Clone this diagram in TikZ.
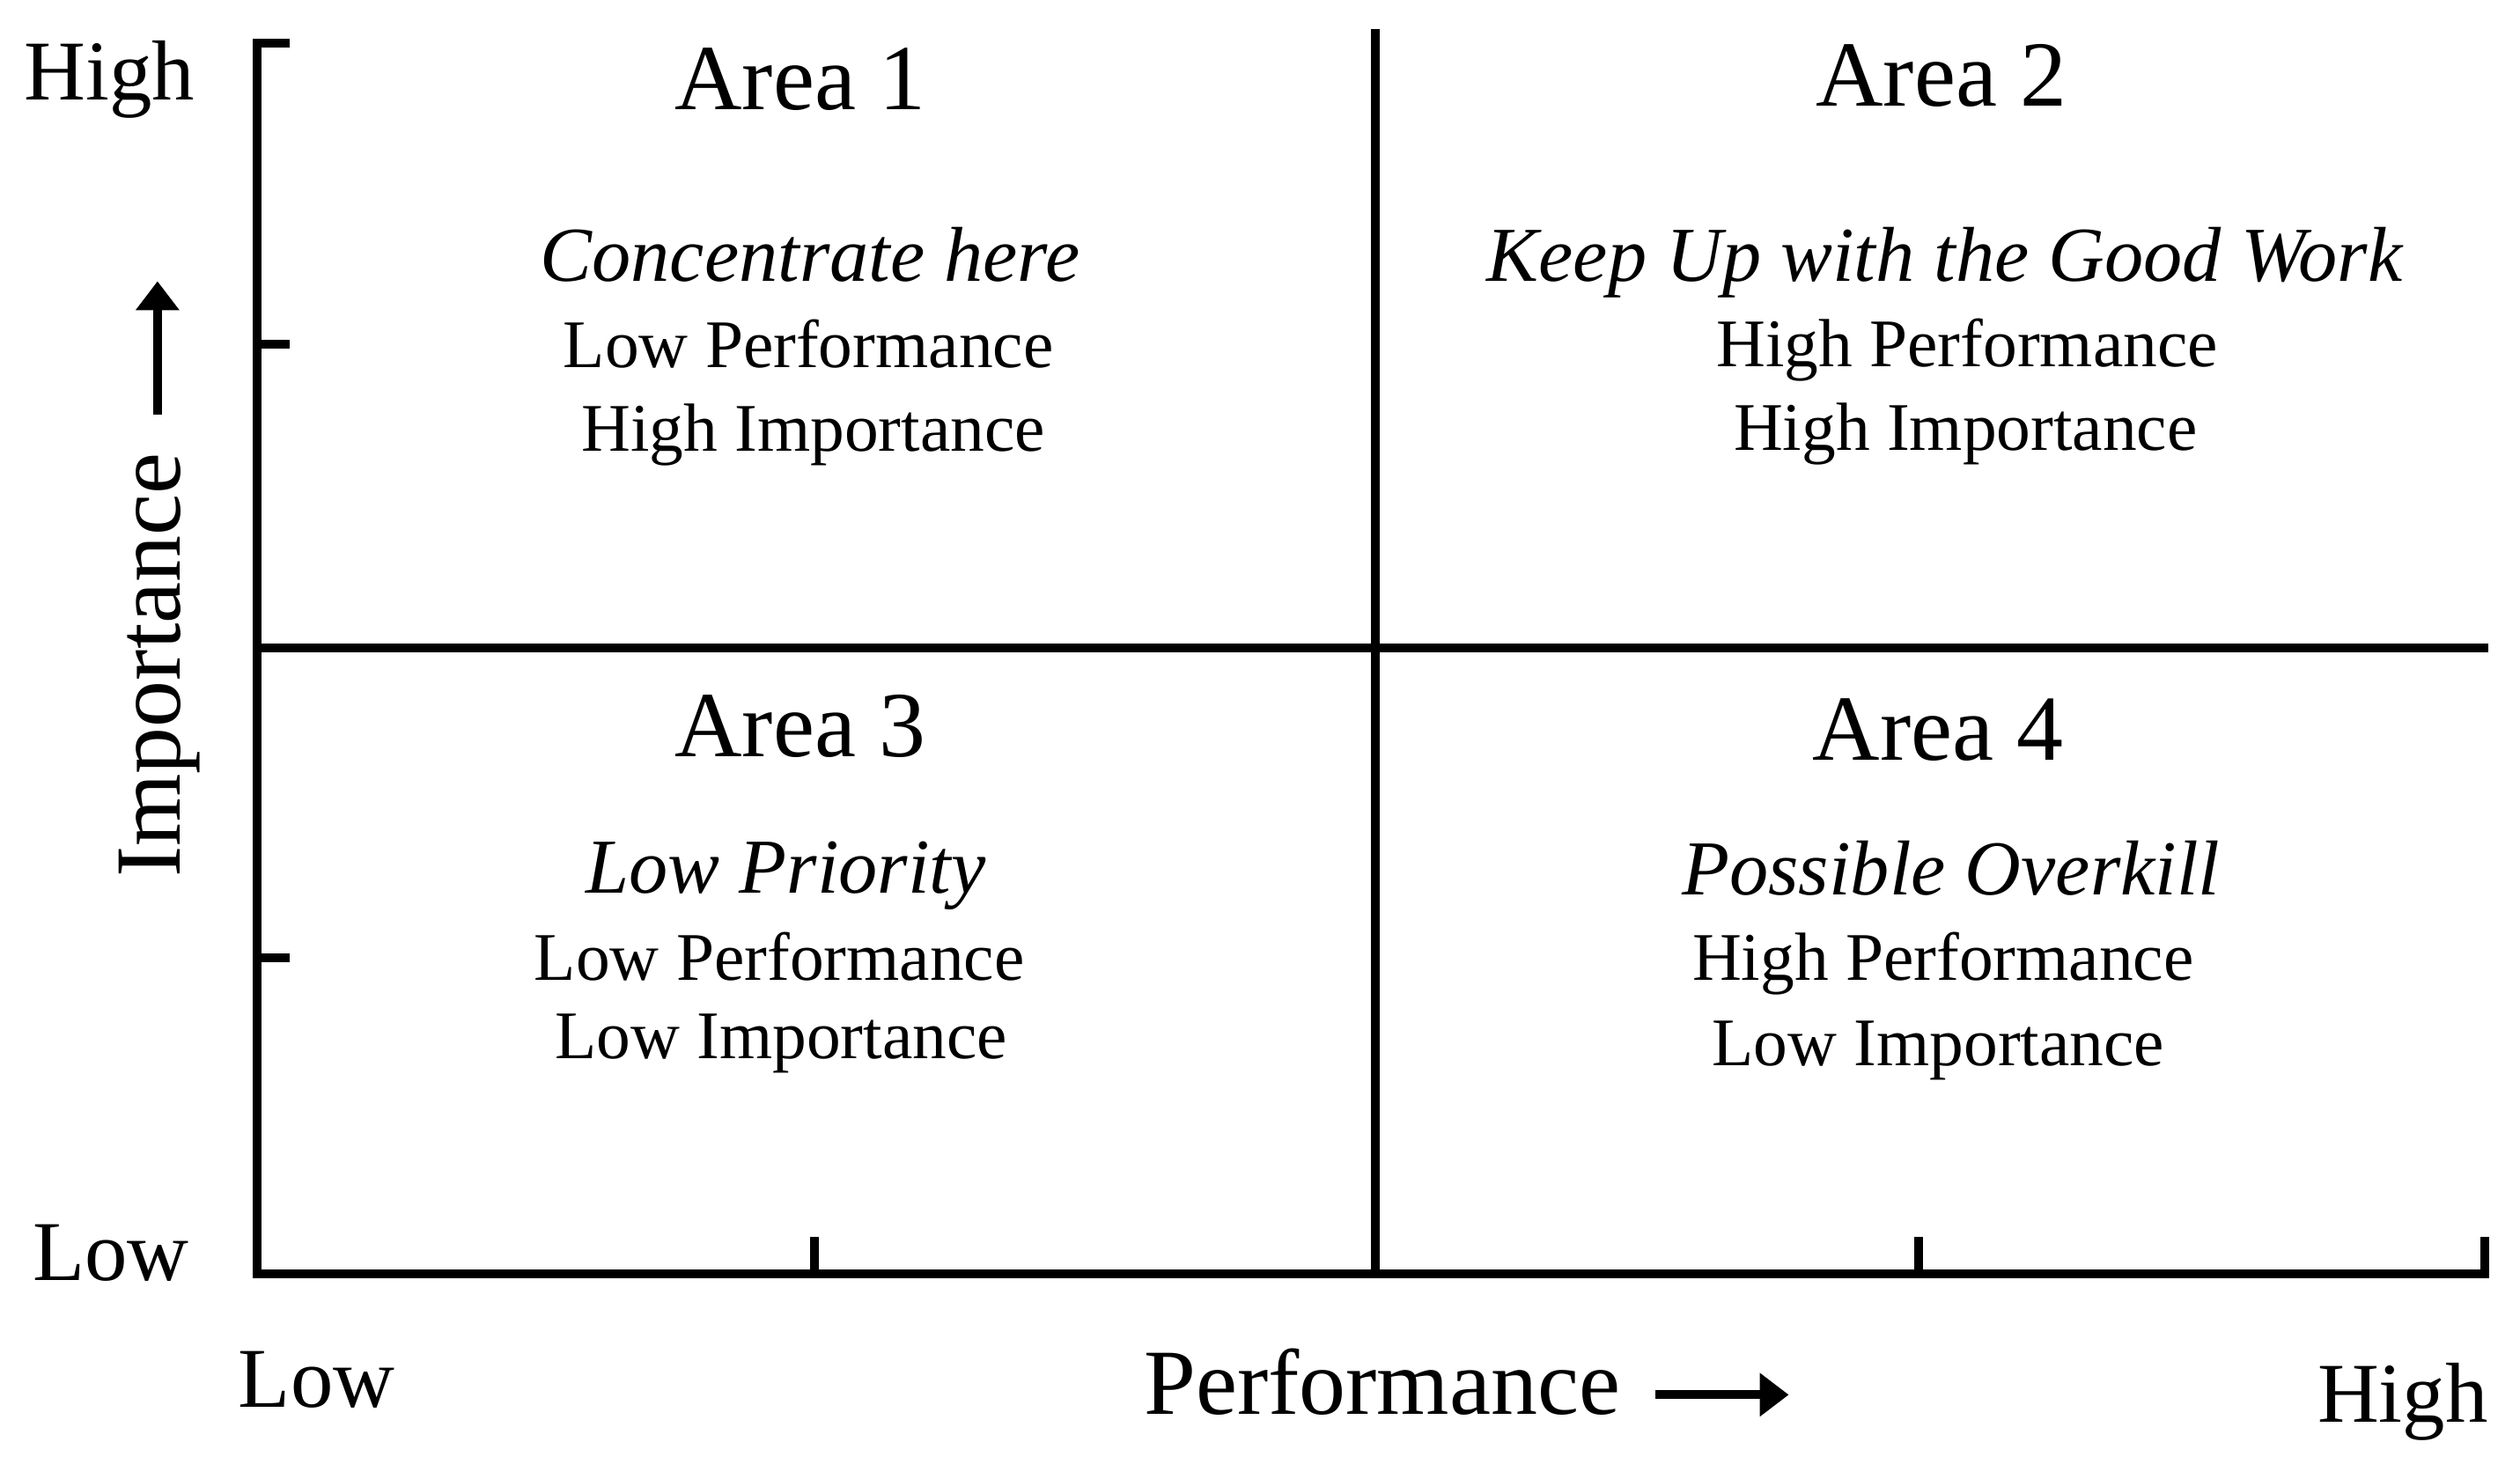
\documentclass[tikz,border=0pt]{standalone}
\usepackage{fontspec}
\setmainfont{Liberation Serif}
\usetikzlibrary{arrows.meta}
\begin{document}
\begin{tikzpicture}[x=0.5pt,y=-0.5pt,
  axis/.style={line width=2.75pt,line join=miter},
  dirarrow/.style={line width=2.75pt,-{Triangle[width=13pt,length=9pt]}},
  txt/.style={inner sep=0pt,anchor=base},
  body/.style={txt,font=\fontsize{21.2}{24}\selectfont},
  ital/.style={txt,font=\fontsize{24.2}{28}\selectfont\itshape},
  areatitle/.style={txt,font=\fontsize{29}{32}\selectfont},
  axlabel/.style={txt,font=\fontsize{29}{32}\selectfont},
  endlabel/.style={txt,font=\fontsize{26.5}{30}\selectfont}]
\useasboundingbox (0,0) rectangle (1568,911);
% axes
\coordinate (ytop) at (160,27);
\coordinate (ycap) at (180,27);
\coordinate (origin) at (160,793);
\coordinate (xend) at (1546,793);
\coordinate (xcap) at (1546,770);
\draw[axis] (ycap) -- (ytop) -- (origin) -- (xend) -- (xcap);
% ticks
\coordinate (ty1) at (160,214); \coordinate (ty1e) at (180,214);
\coordinate (ty2) at (160,596); \coordinate (ty2e) at (180,596);
\coordinate (tx1) at (507,793); \coordinate (tx1e) at (507,770);
\coordinate (tx2) at (1194,793); \coordinate (tx2e) at (1194,770);
\draw[axis] (ty1) -- (ty1e);
\draw[axis] (ty2) -- (ty2e);
\draw[axis] (tx1) -- (tx1e);
\draw[axis] (tx2) -- (tx2e);
% quadrant dividers
\coordinate (vtop) at (856,18); \coordinate (vbot) at (856,793);
\coordinate (hleft) at (160,403); \coordinate (hright) at (1548,403);
\draw[axis] (vtop) -- (vbot);
\draw[axis] (hleft) -- (hright);
% axis labels
\node[endlabel] (yhigh) at (68,62) {High};
\node[endlabel] (ylow) at (69,797) {Low};
\node[endlabel] (xlow) at (197,876) {Low};
\node[endlabel] (xhigh) at (1495,885) {High};
\node[axlabel] (perf) at (860,880) {Performance};
\node[axlabel,rotate=90] (imp) at (112,414) {Importance};
\coordinate (ia0) at (98,258); \coordinate (ia1) at (98,175);
\draw[dirarrow] (ia0) -- (ia1);
\coordinate (pa0) at (1030,868); \coordinate (pa1) at (1113,868);
\draw[dirarrow] (pa0) -- (pa1);
% Area 1
\node[areatitle] (a1) at (498,68) {Area 1};
\node[ital] (a1i) at (504,175) {Concentrate here};
\node[body] (a1p) at (503,229) {Low Performance};
\node[body] (a1m) at (506,281) {High Importance};
% Area 2
\node[areatitle] (a2) at (1208,66) {Area 2};
\node[ital] (a2i) at (1210,175) {Keep Up with the Good Work};
\node[body] (a2p) at (1224,228) {High Performance};
\node[body] (a2m) at (1223,280) {High Importance};
% Area 3
\node[areatitle] (a3) at (498,471) {Area 3};
\node[ital] (a3i) at (489,556) {Low Priority};
\node[body] (a3p) at (485,610) {Low Performance};
\node[body] (a3m) at (486,659) {Low Importance};
% Area 4
\node[areatitle] (a4) at (1206,473) {Area 4};
\node[ital] (a4i) at (1214,557) {Possible Overkill};
\node[body] (a4p) at (1209,610) {High Performance};
\node[body] (a4m) at (1206,663) {Low Importance};
\end{tikzpicture}
\end{document}
